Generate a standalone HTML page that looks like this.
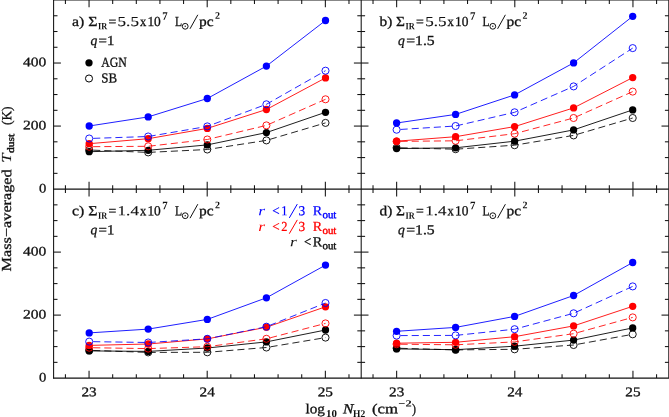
<!DOCTYPE html>
<html><head><meta charset="utf-8"><title>Mass-averaged dust temperature</title>
<style>
html,body{margin:0;padding:0;background:#fff;}
body{width:669px;height:417px;overflow:hidden;font-family:"Liberation Serif",serif;}
svg text{font-family:"Liberation Serif",serif;}
svg{will-change:transform;transform:translateZ(0);}
</style></head><body>
<svg width="669" height="417" viewBox="0 0 669 417" style="display:block">
<rect x="0" y="0" width="669" height="417" fill="#fff"/>
<g stroke="#111" stroke-width="1.05" fill="none" stroke-linecap="butt">
<line x1="53.6" y1="0.0" x2="53.6" y2="378.6"/>
<line x1="361.2" y1="0.0" x2="361.2" y2="378.6"/>
<line x1="668.8" y1="0.0" x2="668.8" y2="378.6"/>
<line x1="53.1" y1="0.0" x2="668.8" y2="0.0"/>
<line x1="53.1" y1="189.1" x2="668.8" y2="189.1"/>
<line x1="53.1" y1="378.1" x2="668.8" y2="378.1"/>
<line x1="65.42" y1="0.0" x2="65.42" y2="3.90"/>
<line x1="65.42" y1="185.20" x2="65.42" y2="193.00"/>
<line x1="65.42" y1="374.20" x2="65.42" y2="378.1"/>
<line x1="89.05" y1="0.0" x2="89.05" y2="7.30"/>
<line x1="89.05" y1="181.80" x2="89.05" y2="196.40"/>
<line x1="89.05" y1="370.80" x2="89.05" y2="378.1"/>
<line x1="112.68" y1="0.0" x2="112.68" y2="3.90"/>
<line x1="112.68" y1="185.20" x2="112.68" y2="193.00"/>
<line x1="112.68" y1="374.20" x2="112.68" y2="378.1"/>
<line x1="136.31" y1="0.0" x2="136.31" y2="3.90"/>
<line x1="136.31" y1="185.20" x2="136.31" y2="193.00"/>
<line x1="136.31" y1="374.20" x2="136.31" y2="378.1"/>
<line x1="159.94" y1="0.0" x2="159.94" y2="3.90"/>
<line x1="159.94" y1="185.20" x2="159.94" y2="193.00"/>
<line x1="159.94" y1="374.20" x2="159.94" y2="378.1"/>
<line x1="183.57" y1="0.0" x2="183.57" y2="3.90"/>
<line x1="183.57" y1="185.20" x2="183.57" y2="193.00"/>
<line x1="183.57" y1="374.20" x2="183.57" y2="378.1"/>
<line x1="207.2" y1="0.0" x2="207.2" y2="7.30"/>
<line x1="207.2" y1="181.80" x2="207.2" y2="196.40"/>
<line x1="207.2" y1="370.80" x2="207.2" y2="378.1"/>
<line x1="230.83" y1="0.0" x2="230.83" y2="3.90"/>
<line x1="230.83" y1="185.20" x2="230.83" y2="193.00"/>
<line x1="230.83" y1="374.20" x2="230.83" y2="378.1"/>
<line x1="254.46" y1="0.0" x2="254.46" y2="3.90"/>
<line x1="254.46" y1="185.20" x2="254.46" y2="193.00"/>
<line x1="254.46" y1="374.20" x2="254.46" y2="378.1"/>
<line x1="278.09" y1="0.0" x2="278.09" y2="3.90"/>
<line x1="278.09" y1="185.20" x2="278.09" y2="193.00"/>
<line x1="278.09" y1="374.20" x2="278.09" y2="378.1"/>
<line x1="301.72" y1="0.0" x2="301.72" y2="3.90"/>
<line x1="301.72" y1="185.20" x2="301.72" y2="193.00"/>
<line x1="301.72" y1="374.20" x2="301.72" y2="378.1"/>
<line x1="325.35" y1="0.0" x2="325.35" y2="7.30"/>
<line x1="325.35" y1="181.80" x2="325.35" y2="196.40"/>
<line x1="325.35" y1="370.80" x2="325.35" y2="378.1"/>
<line x1="348.98" y1="0.0" x2="348.98" y2="3.90"/>
<line x1="348.98" y1="185.20" x2="348.98" y2="193.00"/>
<line x1="348.98" y1="374.20" x2="348.98" y2="378.1"/>
<line x1="373.02" y1="0.0" x2="373.02" y2="3.90"/>
<line x1="373.02" y1="185.20" x2="373.02" y2="193.00"/>
<line x1="373.02" y1="374.20" x2="373.02" y2="378.1"/>
<line x1="396.65" y1="0.0" x2="396.65" y2="7.30"/>
<line x1="396.65" y1="181.80" x2="396.65" y2="196.40"/>
<line x1="396.65" y1="370.80" x2="396.65" y2="378.1"/>
<line x1="420.27" y1="0.0" x2="420.27" y2="3.90"/>
<line x1="420.27" y1="185.20" x2="420.27" y2="193.00"/>
<line x1="420.27" y1="374.20" x2="420.27" y2="378.1"/>
<line x1="443.91" y1="0.0" x2="443.91" y2="3.90"/>
<line x1="443.91" y1="185.20" x2="443.91" y2="193.00"/>
<line x1="443.91" y1="374.20" x2="443.91" y2="378.1"/>
<line x1="467.54" y1="0.0" x2="467.54" y2="3.90"/>
<line x1="467.54" y1="185.20" x2="467.54" y2="193.00"/>
<line x1="467.54" y1="374.20" x2="467.54" y2="378.1"/>
<line x1="491.17" y1="0.0" x2="491.17" y2="3.90"/>
<line x1="491.17" y1="185.20" x2="491.17" y2="193.00"/>
<line x1="491.17" y1="374.20" x2="491.17" y2="378.1"/>
<line x1="514.8" y1="0.0" x2="514.8" y2="7.30"/>
<line x1="514.8" y1="181.80" x2="514.8" y2="196.40"/>
<line x1="514.8" y1="370.80" x2="514.8" y2="378.1"/>
<line x1="538.42" y1="0.0" x2="538.42" y2="3.90"/>
<line x1="538.42" y1="185.20" x2="538.42" y2="193.00"/>
<line x1="538.42" y1="374.20" x2="538.42" y2="378.1"/>
<line x1="562.06" y1="0.0" x2="562.06" y2="3.90"/>
<line x1="562.06" y1="185.20" x2="562.06" y2="193.00"/>
<line x1="562.06" y1="374.20" x2="562.06" y2="378.1"/>
<line x1="585.69" y1="0.0" x2="585.69" y2="3.90"/>
<line x1="585.69" y1="185.20" x2="585.69" y2="193.00"/>
<line x1="585.69" y1="374.20" x2="585.69" y2="378.1"/>
<line x1="609.32" y1="0.0" x2="609.32" y2="3.90"/>
<line x1="609.32" y1="185.20" x2="609.32" y2="193.00"/>
<line x1="609.32" y1="374.20" x2="609.32" y2="378.1"/>
<line x1="632.95" y1="0.0" x2="632.95" y2="7.30"/>
<line x1="632.95" y1="181.80" x2="632.95" y2="196.40"/>
<line x1="632.95" y1="370.80" x2="632.95" y2="378.1"/>
<line x1="656.58" y1="0.0" x2="656.58" y2="3.90"/>
<line x1="656.58" y1="185.20" x2="656.58" y2="193.00"/>
<line x1="656.58" y1="374.20" x2="656.58" y2="378.1"/>
<line x1="53.6" y1="173.34" x2="57.50" y2="173.34"/>
<line x1="357.30" y1="173.34" x2="365.10" y2="173.34"/>
<line x1="664.90" y1="173.34" x2="668.8" y2="173.34"/>
<line x1="53.6" y1="157.58" x2="57.50" y2="157.58"/>
<line x1="357.30" y1="157.58" x2="365.10" y2="157.58"/>
<line x1="664.90" y1="157.58" x2="668.8" y2="157.58"/>
<line x1="53.6" y1="141.82" x2="57.50" y2="141.82"/>
<line x1="357.30" y1="141.82" x2="365.10" y2="141.82"/>
<line x1="664.90" y1="141.82" x2="668.8" y2="141.82"/>
<line x1="53.6" y1="126.07" x2="60.90" y2="126.07"/>
<line x1="353.90" y1="126.07" x2="368.50" y2="126.07"/>
<line x1="661.50" y1="126.07" x2="668.8" y2="126.07"/>
<line x1="53.6" y1="110.31" x2="57.50" y2="110.31"/>
<line x1="357.30" y1="110.31" x2="365.10" y2="110.31"/>
<line x1="664.90" y1="110.31" x2="668.8" y2="110.31"/>
<line x1="53.6" y1="94.55" x2="57.50" y2="94.55"/>
<line x1="357.30" y1="94.55" x2="365.10" y2="94.55"/>
<line x1="664.90" y1="94.55" x2="668.8" y2="94.55"/>
<line x1="53.6" y1="78.79" x2="57.50" y2="78.79"/>
<line x1="357.30" y1="78.79" x2="365.10" y2="78.79"/>
<line x1="664.90" y1="78.79" x2="668.8" y2="78.79"/>
<line x1="53.6" y1="63.03" x2="60.90" y2="63.03"/>
<line x1="353.90" y1="63.03" x2="368.50" y2="63.03"/>
<line x1="661.50" y1="63.03" x2="668.8" y2="63.03"/>
<line x1="53.6" y1="47.27" x2="57.50" y2="47.27"/>
<line x1="357.30" y1="47.27" x2="365.10" y2="47.27"/>
<line x1="664.90" y1="47.27" x2="668.8" y2="47.27"/>
<line x1="53.6" y1="31.51" x2="57.50" y2="31.51"/>
<line x1="357.30" y1="31.51" x2="365.10" y2="31.51"/>
<line x1="664.90" y1="31.51" x2="668.8" y2="31.51"/>
<line x1="53.6" y1="15.76" x2="57.50" y2="15.76"/>
<line x1="357.30" y1="15.76" x2="365.10" y2="15.76"/>
<line x1="664.90" y1="15.76" x2="668.8" y2="15.76"/>
<line x1="53.6" y1="362.35" x2="57.50" y2="362.35"/>
<line x1="357.30" y1="362.35" x2="365.10" y2="362.35"/>
<line x1="664.90" y1="362.35" x2="668.8" y2="362.35"/>
<line x1="53.6" y1="346.6" x2="57.50" y2="346.6"/>
<line x1="357.30" y1="346.6" x2="365.10" y2="346.6"/>
<line x1="664.90" y1="346.6" x2="668.8" y2="346.6"/>
<line x1="53.6" y1="330.85" x2="57.50" y2="330.85"/>
<line x1="357.30" y1="330.85" x2="365.10" y2="330.85"/>
<line x1="664.90" y1="330.85" x2="668.8" y2="330.85"/>
<line x1="53.6" y1="315.1" x2="60.90" y2="315.1"/>
<line x1="353.90" y1="315.1" x2="368.50" y2="315.1"/>
<line x1="661.50" y1="315.1" x2="668.8" y2="315.1"/>
<line x1="53.6" y1="299.35" x2="57.50" y2="299.35"/>
<line x1="357.30" y1="299.35" x2="365.10" y2="299.35"/>
<line x1="664.90" y1="299.35" x2="668.8" y2="299.35"/>
<line x1="53.6" y1="283.6" x2="57.50" y2="283.6"/>
<line x1="357.30" y1="283.6" x2="365.10" y2="283.6"/>
<line x1="664.90" y1="283.6" x2="668.8" y2="283.6"/>
<line x1="53.6" y1="267.85" x2="57.50" y2="267.85"/>
<line x1="357.30" y1="267.85" x2="365.10" y2="267.85"/>
<line x1="664.90" y1="267.85" x2="668.8" y2="267.85"/>
<line x1="53.6" y1="252.1" x2="60.90" y2="252.1"/>
<line x1="353.90" y1="252.1" x2="368.50" y2="252.1"/>
<line x1="661.50" y1="252.1" x2="668.8" y2="252.1"/>
<line x1="53.6" y1="236.35" x2="57.50" y2="236.35"/>
<line x1="357.30" y1="236.35" x2="365.10" y2="236.35"/>
<line x1="664.90" y1="236.35" x2="668.8" y2="236.35"/>
<line x1="53.6" y1="220.6" x2="57.50" y2="220.6"/>
<line x1="357.30" y1="220.6" x2="365.10" y2="220.6"/>
<line x1="664.90" y1="220.6" x2="668.8" y2="220.6"/>
<line x1="53.6" y1="204.85" x2="57.50" y2="204.85"/>
<line x1="357.30" y1="204.85" x2="365.10" y2="204.85"/>
<line x1="664.90" y1="204.85" x2="668.8" y2="204.85"/>
</g>
<polyline points="89.2,151.7 148.2,150.3 207.3,144.9 266.4,132.6 325.5,112.3" fill="none" stroke="#000" stroke-width="0.88"/>
<circle cx="89.2" cy="151.7" r="3.65" fill="#000"/>
<circle cx="148.2" cy="150.3" r="3.65" fill="#000"/>
<circle cx="207.3" cy="144.9" r="3.65" fill="#000"/>
<circle cx="266.4" cy="132.6" r="3.65" fill="#000"/>
<circle cx="325.5" cy="112.3" r="3.65" fill="#000"/>
<polyline points="89.2,150.0 148.2,152.4 207.3,149.5 266.4,140.4 325.5,122.9" fill="none" stroke="#000" stroke-width="0.85" stroke-dasharray="7.1 4.0" stroke-dashoffset="7.1"/>
<circle cx="89.2" cy="150.0" r="3.55" fill="none" stroke="#000" stroke-width="0.9"/>
<circle cx="148.2" cy="152.4" r="3.55" fill="none" stroke="#000" stroke-width="0.9"/>
<circle cx="207.3" cy="149.5" r="3.55" fill="none" stroke="#000" stroke-width="0.9"/>
<circle cx="266.4" cy="140.4" r="3.55" fill="none" stroke="#000" stroke-width="0.9"/>
<circle cx="325.5" cy="122.9" r="3.55" fill="none" stroke="#000" stroke-width="0.9"/>
<polyline points="89.2,143.7 148.2,138.7 207.3,128.4 266.4,109.5 325.5,77.9" fill="none" stroke="#f00" stroke-width="0.88"/>
<circle cx="89.2" cy="143.7" r="3.65" fill="#f00"/>
<circle cx="148.2" cy="138.7" r="3.65" fill="#f00"/>
<circle cx="207.3" cy="128.4" r="3.65" fill="#f00"/>
<circle cx="266.4" cy="109.5" r="3.65" fill="#f00"/>
<circle cx="325.5" cy="77.9" r="3.65" fill="#f00"/>
<polyline points="89.2,146.7 148.2,146.3 207.3,139.5 266.4,125.4 325.5,99.3" fill="none" stroke="#f00" stroke-width="0.85" stroke-dasharray="7.1 4.0" stroke-dashoffset="7.1"/>
<circle cx="89.2" cy="146.7" r="3.55" fill="none" stroke="#f00" stroke-width="0.9"/>
<circle cx="148.2" cy="146.3" r="3.55" fill="none" stroke="#f00" stroke-width="0.9"/>
<circle cx="207.3" cy="139.5" r="3.55" fill="none" stroke="#f00" stroke-width="0.9"/>
<circle cx="266.4" cy="125.4" r="3.55" fill="none" stroke="#f00" stroke-width="0.9"/>
<circle cx="325.5" cy="99.3" r="3.55" fill="none" stroke="#f00" stroke-width="0.9"/>
<polyline points="89.2,126.0 148.2,116.9 207.3,98.5 266.4,66.1 325.5,20.5" fill="none" stroke="#00f" stroke-width="0.88"/>
<circle cx="89.2" cy="126.0" r="3.65" fill="#00f"/>
<circle cx="148.2" cy="116.9" r="3.65" fill="#00f"/>
<circle cx="207.3" cy="98.5" r="3.65" fill="#00f"/>
<circle cx="266.4" cy="66.1" r="3.65" fill="#00f"/>
<circle cx="325.5" cy="20.5" r="3.65" fill="#00f"/>
<polyline points="89.2,138.5 148.2,136.5 207.3,126.4 266.4,104.3 325.5,70.7" fill="none" stroke="#00f" stroke-width="0.85" stroke-dasharray="7.1 4.0" stroke-dashoffset="7.1"/>
<circle cx="89.2" cy="138.5" r="3.55" fill="none" stroke="#00f" stroke-width="0.9"/>
<circle cx="148.2" cy="136.5" r="3.55" fill="none" stroke="#00f" stroke-width="0.9"/>
<circle cx="207.3" cy="126.4" r="3.55" fill="none" stroke="#00f" stroke-width="0.9"/>
<circle cx="266.4" cy="104.3" r="3.55" fill="none" stroke="#00f" stroke-width="0.9"/>
<circle cx="325.5" cy="70.7" r="3.55" fill="none" stroke="#00f" stroke-width="0.9"/>
<polyline points="396.6,148.6 455.6,147.8 514.6,141.2 573.6,129.9 632.7,109.9" fill="none" stroke="#000" stroke-width="0.88"/>
<circle cx="396.6" cy="148.6" r="3.65" fill="#000"/>
<circle cx="455.6" cy="147.8" r="3.65" fill="#000"/>
<circle cx="514.6" cy="141.2" r="3.65" fill="#000"/>
<circle cx="573.6" cy="129.9" r="3.65" fill="#000"/>
<circle cx="632.7" cy="109.9" r="3.65" fill="#000"/>
<polyline points="396.6,147.7 455.6,149.2 514.6,145.2 573.6,135.4 632.7,118.0" fill="none" stroke="#000" stroke-width="0.85" stroke-dasharray="7.1 4.0" stroke-dashoffset="7.1"/>
<circle cx="396.6" cy="147.7" r="3.55" fill="none" stroke="#000" stroke-width="0.9"/>
<circle cx="455.6" cy="149.2" r="3.55" fill="none" stroke="#000" stroke-width="0.9"/>
<circle cx="514.6" cy="145.2" r="3.55" fill="none" stroke="#000" stroke-width="0.9"/>
<circle cx="573.6" cy="135.4" r="3.55" fill="none" stroke="#000" stroke-width="0.9"/>
<circle cx="632.7" cy="118.0" r="3.55" fill="none" stroke="#000" stroke-width="0.9"/>
<polyline points="396.6,141.2 455.6,136.7 514.6,126.6 573.6,107.9 632.7,77.6" fill="none" stroke="#f00" stroke-width="0.88"/>
<circle cx="396.6" cy="141.2" r="3.65" fill="#f00"/>
<circle cx="455.6" cy="136.7" r="3.65" fill="#f00"/>
<circle cx="514.6" cy="126.6" r="3.65" fill="#f00"/>
<circle cx="573.6" cy="107.9" r="3.65" fill="#f00"/>
<circle cx="632.7" cy="77.6" r="3.65" fill="#f00"/>
<polyline points="396.6,141.4 455.6,140.8 514.6,133.7 573.6,118.0 632.7,91.6" fill="none" stroke="#f00" stroke-width="0.85" stroke-dasharray="7.1 4.0" stroke-dashoffset="7.1"/>
<circle cx="396.6" cy="141.4" r="3.55" fill="none" stroke="#f00" stroke-width="0.9"/>
<circle cx="455.6" cy="140.8" r="3.55" fill="none" stroke="#f00" stroke-width="0.9"/>
<circle cx="514.6" cy="133.7" r="3.55" fill="none" stroke="#f00" stroke-width="0.9"/>
<circle cx="573.6" cy="118.0" r="3.55" fill="none" stroke="#f00" stroke-width="0.9"/>
<circle cx="632.7" cy="91.6" r="3.55" fill="none" stroke="#f00" stroke-width="0.9"/>
<polyline points="396.6,123.0 455.6,114.4 514.6,94.9 573.6,62.9 632.7,16.3" fill="none" stroke="#00f" stroke-width="0.88"/>
<circle cx="396.6" cy="123.0" r="3.65" fill="#00f"/>
<circle cx="455.6" cy="114.4" r="3.65" fill="#00f"/>
<circle cx="514.6" cy="94.9" r="3.65" fill="#00f"/>
<circle cx="573.6" cy="62.9" r="3.65" fill="#00f"/>
<circle cx="632.7" cy="16.3" r="3.65" fill="#00f"/>
<polyline points="396.6,129.7 455.6,126.0 514.6,112.3 573.6,86.4 632.7,48.1" fill="none" stroke="#00f" stroke-width="0.85" stroke-dasharray="7.1 4.0" stroke-dashoffset="7.1"/>
<circle cx="396.6" cy="129.7" r="3.55" fill="none" stroke="#00f" stroke-width="0.9"/>
<circle cx="455.6" cy="126.0" r="3.55" fill="none" stroke="#00f" stroke-width="0.9"/>
<circle cx="514.6" cy="112.3" r="3.55" fill="none" stroke="#00f" stroke-width="0.9"/>
<circle cx="573.6" cy="86.4" r="3.55" fill="none" stroke="#00f" stroke-width="0.9"/>
<circle cx="632.7" cy="48.1" r="3.55" fill="none" stroke="#00f" stroke-width="0.9"/>
<polyline points="89.2,350.9 148.2,351.4 207.3,348.0 266.4,341.9 325.5,330.0" fill="none" stroke="#000" stroke-width="0.88"/>
<circle cx="89.2" cy="350.9" r="3.65" fill="#000"/>
<circle cx="148.2" cy="351.4" r="3.65" fill="#000"/>
<circle cx="207.3" cy="348.0" r="3.65" fill="#000"/>
<circle cx="266.4" cy="341.9" r="3.65" fill="#000"/>
<circle cx="325.5" cy="330.0" r="3.65" fill="#000"/>
<polyline points="89.2,350.3 148.2,352.4 207.3,352.3 266.4,347.5 325.5,337.6" fill="none" stroke="#000" stroke-width="0.85" stroke-dasharray="7.1 4.0" stroke-dashoffset="7.1"/>
<circle cx="89.2" cy="350.3" r="3.55" fill="none" stroke="#000" stroke-width="0.9"/>
<circle cx="148.2" cy="352.4" r="3.55" fill="none" stroke="#000" stroke-width="0.9"/>
<circle cx="207.3" cy="352.3" r="3.55" fill="none" stroke="#000" stroke-width="0.9"/>
<circle cx="266.4" cy="347.5" r="3.55" fill="none" stroke="#000" stroke-width="0.9"/>
<circle cx="325.5" cy="337.6" r="3.55" fill="none" stroke="#000" stroke-width="0.9"/>
<polyline points="89.2,345.4 148.2,344.0 207.3,338.9 266.4,327.2 325.5,306.8" fill="none" stroke="#f00" stroke-width="0.88"/>
<circle cx="89.2" cy="345.4" r="3.65" fill="#f00"/>
<circle cx="148.2" cy="344.0" r="3.65" fill="#f00"/>
<circle cx="207.3" cy="338.9" r="3.65" fill="#f00"/>
<circle cx="266.4" cy="327.2" r="3.65" fill="#f00"/>
<circle cx="325.5" cy="306.8" r="3.65" fill="#f00"/>
<polyline points="89.2,347.7 148.2,348.6 207.3,346.7 266.4,338.8 325.5,323.4" fill="none" stroke="#f00" stroke-width="0.85" stroke-dasharray="7.1 4.0" stroke-dashoffset="7.1"/>
<circle cx="89.2" cy="347.7" r="3.55" fill="none" stroke="#f00" stroke-width="0.9"/>
<circle cx="148.2" cy="348.6" r="3.55" fill="none" stroke="#f00" stroke-width="0.9"/>
<circle cx="207.3" cy="346.7" r="3.55" fill="none" stroke="#f00" stroke-width="0.9"/>
<circle cx="266.4" cy="338.8" r="3.55" fill="none" stroke="#f00" stroke-width="0.9"/>
<circle cx="325.5" cy="323.4" r="3.55" fill="none" stroke="#f00" stroke-width="0.9"/>
<polyline points="89.2,332.9 148.2,329.1 207.3,319.4 266.4,297.8 325.5,265.1" fill="none" stroke="#00f" stroke-width="0.88"/>
<circle cx="89.2" cy="332.9" r="3.65" fill="#00f"/>
<circle cx="148.2" cy="329.1" r="3.65" fill="#00f"/>
<circle cx="207.3" cy="319.4" r="3.65" fill="#00f"/>
<circle cx="266.4" cy="297.8" r="3.65" fill="#00f"/>
<circle cx="325.5" cy="265.1" r="3.65" fill="#00f"/>
<polyline points="89.2,341.6 148.2,342.5 207.3,338.8 266.4,326.7 325.5,303.0" fill="none" stroke="#00f" stroke-width="0.85" stroke-dasharray="7.1 4.0" stroke-dashoffset="7.1"/>
<circle cx="89.2" cy="341.6" r="3.55" fill="none" stroke="#00f" stroke-width="0.9"/>
<circle cx="148.2" cy="342.5" r="3.55" fill="none" stroke="#00f" stroke-width="0.9"/>
<circle cx="207.3" cy="338.8" r="3.55" fill="none" stroke="#00f" stroke-width="0.9"/>
<circle cx="266.4" cy="326.7" r="3.55" fill="none" stroke="#00f" stroke-width="0.9"/>
<circle cx="325.5" cy="303.0" r="3.55" fill="none" stroke="#00f" stroke-width="0.9"/>
<polyline points="396.6,348.9 455.6,349.7 514.6,346.2 573.6,340.1 632.7,327.9" fill="none" stroke="#000" stroke-width="0.88"/>
<circle cx="396.6" cy="348.9" r="3.65" fill="#000"/>
<circle cx="455.6" cy="349.7" r="3.65" fill="#000"/>
<circle cx="514.6" cy="346.2" r="3.65" fill="#000"/>
<circle cx="573.6" cy="340.1" r="3.65" fill="#000"/>
<circle cx="632.7" cy="327.9" r="3.65" fill="#000"/>
<polyline points="396.6,348.2 455.6,349.9 514.6,349.3 573.6,345.0 632.7,334.3" fill="none" stroke="#000" stroke-width="0.85" stroke-dasharray="7.1 4.0" stroke-dashoffset="7.1"/>
<circle cx="396.6" cy="348.2" r="3.55" fill="none" stroke="#000" stroke-width="0.9"/>
<circle cx="455.6" cy="349.9" r="3.55" fill="none" stroke="#000" stroke-width="0.9"/>
<circle cx="514.6" cy="349.3" r="3.55" fill="none" stroke="#000" stroke-width="0.9"/>
<circle cx="573.6" cy="345.0" r="3.55" fill="none" stroke="#000" stroke-width="0.9"/>
<circle cx="632.7" cy="334.3" r="3.55" fill="none" stroke="#000" stroke-width="0.9"/>
<polyline points="396.6,343.2 455.6,342.3 514.6,336.7 573.6,325.9 632.7,306.3" fill="none" stroke="#f00" stroke-width="0.88"/>
<circle cx="396.6" cy="343.2" r="3.65" fill="#f00"/>
<circle cx="455.6" cy="342.3" r="3.65" fill="#f00"/>
<circle cx="514.6" cy="336.7" r="3.65" fill="#f00"/>
<circle cx="573.6" cy="325.9" r="3.65" fill="#f00"/>
<circle cx="632.7" cy="306.3" r="3.65" fill="#f00"/>
<polyline points="396.6,344.2 455.6,344.8 514.6,341.9 573.6,333.7 632.7,317.4" fill="none" stroke="#f00" stroke-width="0.85" stroke-dasharray="7.1 4.0" stroke-dashoffset="7.1"/>
<circle cx="396.6" cy="344.2" r="3.55" fill="none" stroke="#f00" stroke-width="0.9"/>
<circle cx="455.6" cy="344.8" r="3.55" fill="none" stroke="#f00" stroke-width="0.9"/>
<circle cx="514.6" cy="341.9" r="3.55" fill="none" stroke="#f00" stroke-width="0.9"/>
<circle cx="573.6" cy="333.7" r="3.55" fill="none" stroke="#f00" stroke-width="0.9"/>
<circle cx="632.7" cy="317.4" r="3.55" fill="none" stroke="#f00" stroke-width="0.9"/>
<polyline points="396.6,331.3 455.6,327.4 514.6,316.4 573.6,295.5 632.7,262.5" fill="none" stroke="#00f" stroke-width="0.88"/>
<circle cx="396.6" cy="331.3" r="3.65" fill="#00f"/>
<circle cx="455.6" cy="327.4" r="3.65" fill="#00f"/>
<circle cx="514.6" cy="316.4" r="3.65" fill="#00f"/>
<circle cx="573.6" cy="295.5" r="3.65" fill="#00f"/>
<circle cx="632.7" cy="262.5" r="3.65" fill="#00f"/>
<polyline points="396.6,335.6 455.6,335.4 514.6,329.2 573.6,313.3 632.7,286.4" fill="none" stroke="#00f" stroke-width="0.85" stroke-dasharray="7.1 4.0" stroke-dashoffset="7.1"/>
<circle cx="396.6" cy="335.6" r="3.55" fill="none" stroke="#00f" stroke-width="0.9"/>
<circle cx="455.6" cy="335.4" r="3.55" fill="none" stroke="#00f" stroke-width="0.9"/>
<circle cx="514.6" cy="329.2" r="3.55" fill="none" stroke="#00f" stroke-width="0.9"/>
<circle cx="573.6" cy="313.3" r="3.55" fill="none" stroke="#00f" stroke-width="0.9"/>
<circle cx="632.7" cy="286.4" r="3.55" fill="none" stroke="#00f" stroke-width="0.9"/>
<text transform="translate(38.9,192.4) rotate(0.05)" font-family="Liberation Serif, serif" font-size="13.0" fill="#111" stroke="#111" stroke-width="0.3" text-anchor="start" textLength="7.3" lengthAdjust="spacingAndGlyphs"  >0</text>
<text transform="translate(22.9,129.37) rotate(0.05)" font-family="Liberation Serif, serif" font-size="13.0" fill="#111" stroke="#111" stroke-width="0.3" text-anchor="start" textLength="23.3" lengthAdjust="spacingAndGlyphs"  >200</text>
<text transform="translate(22.9,66.33) rotate(0.05)" font-family="Liberation Serif, serif" font-size="13.0" fill="#111" stroke="#111" stroke-width="0.3" text-anchor="start" textLength="23.3" lengthAdjust="spacingAndGlyphs"  >400</text>
<text transform="translate(38.9,381.4) rotate(0.05)" font-family="Liberation Serif, serif" font-size="13.0" fill="#111" stroke="#111" stroke-width="0.3" text-anchor="start" textLength="7.3" lengthAdjust="spacingAndGlyphs"  >0</text>
<text transform="translate(22.9,318.4) rotate(0.05)" font-family="Liberation Serif, serif" font-size="13.0" fill="#111" stroke="#111" stroke-width="0.3" text-anchor="start" textLength="23.3" lengthAdjust="spacingAndGlyphs"  >200</text>
<text transform="translate(22.9,255.4) rotate(0.05)" font-family="Liberation Serif, serif" font-size="13.0" fill="#111" stroke="#111" stroke-width="0.3" text-anchor="start" textLength="23.3" lengthAdjust="spacingAndGlyphs"  >400</text>
<text transform="translate(81.45,396.3) rotate(0.05)" font-family="Liberation Serif, serif" font-size="13.3" fill="#111" stroke="#111" stroke-width="0.3" text-anchor="start" textLength="15.2" lengthAdjust="spacingAndGlyphs"  >23</text>
<text transform="translate(199.6,396.3) rotate(0.05)" font-family="Liberation Serif, serif" font-size="13.3" fill="#111" stroke="#111" stroke-width="0.3" text-anchor="start" textLength="15.2" lengthAdjust="spacingAndGlyphs"  >24</text>
<text transform="translate(317.75,396.3) rotate(0.05)" font-family="Liberation Serif, serif" font-size="13.3" fill="#111" stroke="#111" stroke-width="0.3" text-anchor="start" textLength="15.2" lengthAdjust="spacingAndGlyphs"  >25</text>
<text transform="translate(389.05,396.3) rotate(0.05)" font-family="Liberation Serif, serif" font-size="13.3" fill="#111" stroke="#111" stroke-width="0.3" text-anchor="start" textLength="15.2" lengthAdjust="spacingAndGlyphs"  >23</text>
<text transform="translate(507.2,396.3) rotate(0.05)" font-family="Liberation Serif, serif" font-size="13.3" fill="#111" stroke="#111" stroke-width="0.3" text-anchor="start" textLength="15.2" lengthAdjust="spacingAndGlyphs"  >24</text>
<text transform="translate(625.35,396.3) rotate(0.05)" font-family="Liberation Serif, serif" font-size="13.3" fill="#111" stroke="#111" stroke-width="0.3" text-anchor="start" textLength="15.2" lengthAdjust="spacingAndGlyphs"  >25</text>
<text transform="translate(71.9,25.9) rotate(0.05)" font-family="Liberation Serif, serif" font-size="13.8" fill="#111" stroke="#111" stroke-width="0.3" text-anchor="start" textLength="25.5" lengthAdjust="spacingAndGlyphs"  >a) Σ</text>
<text transform="translate(98.0,29.3) rotate(0.05)" font-family="Liberation Serif, serif" font-size="9.5" fill="#111" text-anchor="start" textLength="9.2" lengthAdjust="spacingAndGlyphs"  font-weight="bold">IR</text>
<text transform="translate(108.5,25.9) rotate(0.05)" font-family="Liberation Serif, serif" font-size="13.8" fill="#111" stroke="#111" stroke-width="0.3" text-anchor="start" textLength="7.8" lengthAdjust="spacingAndGlyphs"  >=</text>
<text transform="translate(117.6,25.9) rotate(0.05)" font-family="Liberation Serif, serif" font-size="13.8" fill="#111" stroke="#111" stroke-width="0.12" text-anchor="start" textLength="21.3" lengthAdjust="spacingAndGlyphs"  >5.5</text>
<text transform="translate(140.0,25.9) rotate(0.05)" font-family="Liberation Serif, serif" font-size="13.8" fill="#111" stroke="#111" stroke-width="0.3" text-anchor="start" textLength="6.3" lengthAdjust="spacingAndGlyphs"  >x</text>
<text transform="translate(147.4,25.9) rotate(0.05)" font-family="Liberation Serif, serif" font-size="13.8" fill="#111" stroke="#111" stroke-width="0.3" text-anchor="start" textLength="13.4" lengthAdjust="spacingAndGlyphs"  >10</text>
<text transform="translate(162.3,19.8) rotate(0.05)" font-family="Liberation Serif, serif" font-size="11.5" fill="#111" text-anchor="start" textLength="5.4" lengthAdjust="spacingAndGlyphs"  font-weight="bold">7</text>
<text transform="translate(174.9,25.9) rotate(0.05)" font-family="Liberation Serif, serif" font-size="13.8" fill="#111" stroke="#111" stroke-width="0.3" text-anchor="start" textLength="7.1" lengthAdjust="spacingAndGlyphs"  >L</text>
<circle cx="185.2" cy="26.3" r="2.9" fill="none" stroke="#111" stroke-width="1"/>
<circle cx="185.2" cy="26.3" r="0.7" fill="#111"/>
<line x1="190.0" y1="28.8" x2="197.8" y2="14.8" stroke="#111" stroke-width="1"/>
<text transform="translate(199.0,25.9) rotate(0.05)" font-family="Liberation Serif, serif" font-size="13.8" fill="#111" stroke="#111" stroke-width="0.3" text-anchor="start" textLength="14.6" lengthAdjust="spacingAndGlyphs"  >pc</text>
<text transform="translate(215.0,18.8) rotate(0.05)" font-family="Liberation Serif, serif" font-size="10" fill="#111" text-anchor="start" textLength="5.0" lengthAdjust="spacingAndGlyphs"  font-weight="bold">2</text>
<text transform="translate(90.5,44.9) rotate(0.05)" font-family="Liberation Serif, serif" font-size="13.8" fill="#111" stroke="#111" stroke-width="0.3" text-anchor="start" textLength="6.8" lengthAdjust="spacingAndGlyphs" font-style="italic" >q</text>
<text transform="translate(98.6,44.9) rotate(0.05)" font-family="Liberation Serif, serif" font-size="13.8" fill="#111" stroke="#111" stroke-width="0.3" text-anchor="start" textLength="15.8" lengthAdjust="spacingAndGlyphs"  >=1</text>
<text transform="translate(379.5,25.9) rotate(0.05)" font-family="Liberation Serif, serif" font-size="13.8" fill="#111" stroke="#111" stroke-width="0.3" text-anchor="start" textLength="25.5" lengthAdjust="spacingAndGlyphs"  >b) Σ</text>
<text transform="translate(405.59999999999997,29.3) rotate(0.05)" font-family="Liberation Serif, serif" font-size="9.5" fill="#111" text-anchor="start" textLength="9.2" lengthAdjust="spacingAndGlyphs"  font-weight="bold">IR</text>
<text transform="translate(416.09999999999997,25.9) rotate(0.05)" font-family="Liberation Serif, serif" font-size="13.8" fill="#111" stroke="#111" stroke-width="0.3" text-anchor="start" textLength="7.8" lengthAdjust="spacingAndGlyphs"  >=</text>
<text transform="translate(425.19999999999993,25.9) rotate(0.05)" font-family="Liberation Serif, serif" font-size="13.8" fill="#111" stroke="#111" stroke-width="0.12" text-anchor="start" textLength="21.3" lengthAdjust="spacingAndGlyphs"  >5.5</text>
<text transform="translate(447.59999999999997,25.9) rotate(0.05)" font-family="Liberation Serif, serif" font-size="13.8" fill="#111" stroke="#111" stroke-width="0.3" text-anchor="start" textLength="6.3" lengthAdjust="spacingAndGlyphs"  >x</text>
<text transform="translate(455.0,25.9) rotate(0.05)" font-family="Liberation Serif, serif" font-size="13.8" fill="#111" stroke="#111" stroke-width="0.3" text-anchor="start" textLength="13.4" lengthAdjust="spacingAndGlyphs"  >10</text>
<text transform="translate(469.9,19.8) rotate(0.05)" font-family="Liberation Serif, serif" font-size="11.5" fill="#111" text-anchor="start" textLength="5.4" lengthAdjust="spacingAndGlyphs"  font-weight="bold">7</text>
<text transform="translate(482.5,25.9) rotate(0.05)" font-family="Liberation Serif, serif" font-size="13.8" fill="#111" stroke="#111" stroke-width="0.3" text-anchor="start" textLength="7.1" lengthAdjust="spacingAndGlyphs"  >L</text>
<circle cx="492.79999999999995" cy="26.3" r="2.9" fill="none" stroke="#111" stroke-width="1"/>
<circle cx="492.79999999999995" cy="26.3" r="0.7" fill="#111"/>
<line x1="497.59999999999997" y1="28.8" x2="505.4" y2="14.8" stroke="#111" stroke-width="1"/>
<text transform="translate(506.59999999999997,25.9) rotate(0.05)" font-family="Liberation Serif, serif" font-size="13.8" fill="#111" stroke="#111" stroke-width="0.3" text-anchor="start" textLength="14.6" lengthAdjust="spacingAndGlyphs"  >pc</text>
<text transform="translate(522.5999999999999,18.8) rotate(0.05)" font-family="Liberation Serif, serif" font-size="10" fill="#111" text-anchor="start" textLength="5.0" lengthAdjust="spacingAndGlyphs"  font-weight="bold">2</text>
<text transform="translate(398.09999999999997,44.9) rotate(0.05)" font-family="Liberation Serif, serif" font-size="13.8" fill="#111" stroke="#111" stroke-width="0.3" text-anchor="start" textLength="6.8" lengthAdjust="spacingAndGlyphs" font-style="italic" >q</text>
<text transform="translate(406.19999999999993,44.9) rotate(0.05)" font-family="Liberation Serif, serif" font-size="13.8" fill="#111" stroke="#111" stroke-width="0.3" text-anchor="start" textLength="28.5" lengthAdjust="spacingAndGlyphs"  >=1.5</text>
<text transform="translate(71.9,215.3) rotate(0.05)" font-family="Liberation Serif, serif" font-size="13.8" fill="#111" stroke="#111" stroke-width="0.3" text-anchor="start" textLength="25.5" lengthAdjust="spacingAndGlyphs"  >c) Σ</text>
<text transform="translate(98.0,218.70000000000002) rotate(0.05)" font-family="Liberation Serif, serif" font-size="9.5" fill="#111" text-anchor="start" textLength="9.2" lengthAdjust="spacingAndGlyphs"  font-weight="bold">IR</text>
<text transform="translate(108.5,215.3) rotate(0.05)" font-family="Liberation Serif, serif" font-size="13.8" fill="#111" stroke="#111" stroke-width="0.3" text-anchor="start" textLength="7.8" lengthAdjust="spacingAndGlyphs"  >=</text>
<text transform="translate(117.6,215.3) rotate(0.05)" font-family="Liberation Serif, serif" font-size="13.8" fill="#111" stroke="#111" stroke-width="0.12" text-anchor="start" textLength="21.3" lengthAdjust="spacingAndGlyphs"  >1.4</text>
<text transform="translate(140.0,215.3) rotate(0.05)" font-family="Liberation Serif, serif" font-size="13.8" fill="#111" stroke="#111" stroke-width="0.3" text-anchor="start" textLength="6.3" lengthAdjust="spacingAndGlyphs"  >x</text>
<text transform="translate(147.4,215.3) rotate(0.05)" font-family="Liberation Serif, serif" font-size="13.8" fill="#111" stroke="#111" stroke-width="0.3" text-anchor="start" textLength="13.4" lengthAdjust="spacingAndGlyphs"  >10</text>
<text transform="translate(162.3,209.20000000000002) rotate(0.05)" font-family="Liberation Serif, serif" font-size="11.5" fill="#111" text-anchor="start" textLength="5.4" lengthAdjust="spacingAndGlyphs"  font-weight="bold">7</text>
<text transform="translate(174.9,215.3) rotate(0.05)" font-family="Liberation Serif, serif" font-size="13.8" fill="#111" stroke="#111" stroke-width="0.3" text-anchor="start" textLength="7.1" lengthAdjust="spacingAndGlyphs"  >L</text>
<circle cx="185.2" cy="215.70000000000002" r="2.9" fill="none" stroke="#111" stroke-width="1"/>
<circle cx="185.2" cy="215.70000000000002" r="0.7" fill="#111"/>
<line x1="190.0" y1="218.20000000000002" x2="197.8" y2="204.20000000000002" stroke="#111" stroke-width="1"/>
<text transform="translate(199.0,215.3) rotate(0.05)" font-family="Liberation Serif, serif" font-size="13.8" fill="#111" stroke="#111" stroke-width="0.3" text-anchor="start" textLength="14.6" lengthAdjust="spacingAndGlyphs"  >pc</text>
<text transform="translate(215.0,208.20000000000002) rotate(0.05)" font-family="Liberation Serif, serif" font-size="10" fill="#111" text-anchor="start" textLength="5.0" lengthAdjust="spacingAndGlyphs"  font-weight="bold">2</text>
<text transform="translate(90.5,234.3) rotate(0.05)" font-family="Liberation Serif, serif" font-size="13.8" fill="#111" stroke="#111" stroke-width="0.3" text-anchor="start" textLength="6.8" lengthAdjust="spacingAndGlyphs" font-style="italic" >q</text>
<text transform="translate(98.6,234.3) rotate(0.05)" font-family="Liberation Serif, serif" font-size="13.8" fill="#111" stroke="#111" stroke-width="0.3" text-anchor="start" textLength="15.8" lengthAdjust="spacingAndGlyphs"  >=1</text>
<text transform="translate(379.5,215.3) rotate(0.05)" font-family="Liberation Serif, serif" font-size="13.8" fill="#111" stroke="#111" stroke-width="0.3" text-anchor="start" textLength="25.5" lengthAdjust="spacingAndGlyphs"  >d) Σ</text>
<text transform="translate(405.59999999999997,218.70000000000002) rotate(0.05)" font-family="Liberation Serif, serif" font-size="9.5" fill="#111" text-anchor="start" textLength="9.2" lengthAdjust="spacingAndGlyphs"  font-weight="bold">IR</text>
<text transform="translate(416.09999999999997,215.3) rotate(0.05)" font-family="Liberation Serif, serif" font-size="13.8" fill="#111" stroke="#111" stroke-width="0.3" text-anchor="start" textLength="7.8" lengthAdjust="spacingAndGlyphs"  >=</text>
<text transform="translate(425.19999999999993,215.3) rotate(0.05)" font-family="Liberation Serif, serif" font-size="13.8" fill="#111" stroke="#111" stroke-width="0.12" text-anchor="start" textLength="21.3" lengthAdjust="spacingAndGlyphs"  >1.4</text>
<text transform="translate(447.59999999999997,215.3) rotate(0.05)" font-family="Liberation Serif, serif" font-size="13.8" fill="#111" stroke="#111" stroke-width="0.3" text-anchor="start" textLength="6.3" lengthAdjust="spacingAndGlyphs"  >x</text>
<text transform="translate(455.0,215.3) rotate(0.05)" font-family="Liberation Serif, serif" font-size="13.8" fill="#111" stroke="#111" stroke-width="0.3" text-anchor="start" textLength="13.4" lengthAdjust="spacingAndGlyphs"  >10</text>
<text transform="translate(469.9,209.20000000000002) rotate(0.05)" font-family="Liberation Serif, serif" font-size="11.5" fill="#111" text-anchor="start" textLength="5.4" lengthAdjust="spacingAndGlyphs"  font-weight="bold">7</text>
<text transform="translate(482.5,215.3) rotate(0.05)" font-family="Liberation Serif, serif" font-size="13.8" fill="#111" stroke="#111" stroke-width="0.3" text-anchor="start" textLength="7.1" lengthAdjust="spacingAndGlyphs"  >L</text>
<circle cx="492.79999999999995" cy="215.70000000000002" r="2.9" fill="none" stroke="#111" stroke-width="1"/>
<circle cx="492.79999999999995" cy="215.70000000000002" r="0.7" fill="#111"/>
<line x1="497.59999999999997" y1="218.20000000000002" x2="505.4" y2="204.20000000000002" stroke="#111" stroke-width="1"/>
<text transform="translate(506.59999999999997,215.3) rotate(0.05)" font-family="Liberation Serif, serif" font-size="13.8" fill="#111" stroke="#111" stroke-width="0.3" text-anchor="start" textLength="14.6" lengthAdjust="spacingAndGlyphs"  >pc</text>
<text transform="translate(522.5999999999999,208.20000000000002) rotate(0.05)" font-family="Liberation Serif, serif" font-size="10" fill="#111" text-anchor="start" textLength="5.0" lengthAdjust="spacingAndGlyphs"  font-weight="bold">2</text>
<text transform="translate(398.09999999999997,234.3) rotate(0.05)" font-family="Liberation Serif, serif" font-size="13.8" fill="#111" stroke="#111" stroke-width="0.3" text-anchor="start" textLength="6.8" lengthAdjust="spacingAndGlyphs" font-style="italic" >q</text>
<text transform="translate(406.19999999999993,234.3) rotate(0.05)" font-family="Liberation Serif, serif" font-size="13.8" fill="#111" stroke="#111" stroke-width="0.3" text-anchor="start" textLength="28.5" lengthAdjust="spacingAndGlyphs"  >=1.5</text>
<circle cx="89.0" cy="62.8" r="3.65" fill="#000"/>
<circle cx="89.0" cy="78.5" r="3.55" fill="none" stroke="#000" stroke-width="1"/>
<text transform="translate(101.3,66.7) rotate(0.05)" font-family="Liberation Serif, serif" font-size="13.8" fill="#111" stroke="#111" stroke-width="0.3" text-anchor="start" textLength="25.6" lengthAdjust="spacingAndGlyphs"  >AGN</text>
<text transform="translate(101.3,82.5) rotate(0.05)" font-family="Liberation Serif, serif" font-size="13.8" fill="#111" stroke="#111" stroke-width="0.3" text-anchor="start" textLength="15.8" lengthAdjust="spacingAndGlyphs"  >SB</text>
<text transform="translate(258.2,215.2) rotate(0.05)" font-family="Liberation Serif, serif" font-size="13.8" fill="#00f" stroke="#00f" stroke-width="0.0" text-anchor="start" textLength="6.8" lengthAdjust="spacingAndGlyphs" font-style="italic" >r</text>
<text transform="translate(272.2,215.2) rotate(0.05)" font-family="Liberation Serif, serif" font-size="13.8" fill="#00f" stroke="#00f" stroke-width="0.22" text-anchor="start" textLength="7.4" lengthAdjust="spacingAndGlyphs"  >&lt;</text>
<text transform="translate(281.2,215.2) rotate(0.05)" font-family="Liberation Serif, serif" font-size="13.8" fill="#00f" stroke="#00f" stroke-width="0.22" text-anchor="start" textLength="6.2" lengthAdjust="spacingAndGlyphs"  >1</text>
<line x1="289.3" y1="217.89999999999998" x2="297.3" y2="204.1" stroke="#00f" stroke-width="1"/>
<text transform="translate(298.4,215.2) rotate(0.05)" font-family="Liberation Serif, serif" font-size="13.8" fill="#00f" stroke="#00f" stroke-width="0.22" text-anchor="start" textLength="6.7" lengthAdjust="spacingAndGlyphs"  >3</text>
<text transform="translate(312.8,215.2) rotate(0.05)" font-family="Liberation Serif, serif" font-size="13.8" fill="#00f" stroke="#00f" stroke-width="0.22" text-anchor="start" textLength="9.4" lengthAdjust="spacingAndGlyphs"  >R</text>
<text transform="translate(322.4,218.29999999999998) rotate(0.05)" font-family="Liberation Serif, serif" font-size="11" fill="#00f" stroke="#00f" stroke-width="0.4" text-anchor="start" textLength="14.0" lengthAdjust="spacingAndGlyphs"  >out</text>
<text transform="translate(258.2,231.0) rotate(0.05)" font-family="Liberation Serif, serif" font-size="13.8" fill="#f00" stroke="#f00" stroke-width="0.0" text-anchor="start" textLength="6.8" lengthAdjust="spacingAndGlyphs" font-style="italic" >r</text>
<text transform="translate(272.2,231.0) rotate(0.05)" font-family="Liberation Serif, serif" font-size="13.8" fill="#f00" stroke="#f00" stroke-width="0.22" text-anchor="start" textLength="7.4" lengthAdjust="spacingAndGlyphs"  >&lt;</text>
<text transform="translate(281.2,231.0) rotate(0.05)" font-family="Liberation Serif, serif" font-size="13.8" fill="#f00" stroke="#f00" stroke-width="0.22" text-anchor="start" textLength="6.2" lengthAdjust="spacingAndGlyphs"  >2</text>
<line x1="289.3" y1="233.7" x2="297.3" y2="219.9" stroke="#f00" stroke-width="1"/>
<text transform="translate(298.4,231.0) rotate(0.05)" font-family="Liberation Serif, serif" font-size="13.8" fill="#f00" stroke="#f00" stroke-width="0.22" text-anchor="start" textLength="6.7" lengthAdjust="spacingAndGlyphs"  >3</text>
<text transform="translate(312.8,231.0) rotate(0.05)" font-family="Liberation Serif, serif" font-size="13.8" fill="#f00" stroke="#f00" stroke-width="0.22" text-anchor="start" textLength="9.4" lengthAdjust="spacingAndGlyphs"  >R</text>
<text transform="translate(322.4,234.1) rotate(0.05)" font-family="Liberation Serif, serif" font-size="11" fill="#f00" stroke="#f00" stroke-width="0.4" text-anchor="start" textLength="14.0" lengthAdjust="spacingAndGlyphs"  >out</text>
<text transform="translate(289.9,246.2) rotate(0.05)" font-family="Liberation Serif, serif" font-size="13.8" fill="#111" stroke="#111" stroke-width="0.05" text-anchor="start" textLength="6.8" lengthAdjust="spacingAndGlyphs" font-style="italic" >r</text>
<text transform="translate(304.1,246.2) rotate(0.05)" font-family="Liberation Serif, serif" font-size="13.8" fill="#111" stroke="#111" stroke-width="0.3" text-anchor="start" textLength="7.2" lengthAdjust="spacingAndGlyphs"  >&lt;</text>
<text transform="translate(312.8,246.2) rotate(0.05)" font-family="Liberation Serif, serif" font-size="13.8" fill="#111" stroke="#111" stroke-width="0.3" text-anchor="start" textLength="9.4" lengthAdjust="spacingAndGlyphs"  >R</text>
<text transform="translate(322.4,249.3) rotate(0.05)" font-family="Liberation Serif, serif" font-size="11" fill="#111" stroke="#111" stroke-width="0.4" text-anchor="start" textLength="14.0" lengthAdjust="spacingAndGlyphs"  >out</text>
<text transform="translate(305.5,413.3) rotate(0.05)" font-family="Liberation Serif, serif" font-size="13.8" fill="#111" stroke="#111" stroke-width="0.3" text-anchor="start" textLength="19.4" lengthAdjust="spacingAndGlyphs"  >log</text>
<text transform="translate(326.0,416.9) rotate(0.05)" font-family="Liberation Serif, serif" font-size="10.6" fill="#111" text-anchor="start" textLength="10.9" lengthAdjust="spacingAndGlyphs"  font-weight="bold">10</text>
<text transform="translate(343.0,413.3) rotate(0.05)" font-family="Liberation Serif, serif" font-size="13.8" fill="#111" stroke="#111" stroke-width="0.3" text-anchor="start" textLength="10.5" lengthAdjust="spacingAndGlyphs" font-style="italic" >N</text>
<text transform="translate(353.0,416.9) rotate(0.05)" font-family="Liberation Serif, serif" font-size="10.2" fill="#111" text-anchor="start" textLength="12.2" lengthAdjust="spacingAndGlyphs"  font-weight="bold">H2</text>
<text transform="translate(372.0,413.3) rotate(0.05)" font-family="Liberation Serif, serif" font-size="13.8" fill="#111" stroke="#111" stroke-width="0.3" text-anchor="start" textLength="26.0" lengthAdjust="spacingAndGlyphs"  >(cm</text>
<text transform="translate(398.3,406.6) rotate(0.05)" font-family="Liberation Serif, serif" font-size="9.5" fill="#111" text-anchor="start" textLength="13.3" lengthAdjust="spacingAndGlyphs"  font-weight="bold">−2</text>
<text transform="translate(412.0,413.3) rotate(0.05)" font-family="Liberation Serif, serif" font-size="13.8" fill="#111" stroke="#111" stroke-width="0.3" text-anchor="start" textLength="4.0" lengthAdjust="spacingAndGlyphs"  >)</text>
<g transform="translate(11,271.4) rotate(-89.95)">
<text transform="translate(0,0) rotate(0.05)" font-family="Liberation Serif, serif" font-size="13.8" fill="#111" stroke="#111" stroke-width="0.3" text-anchor="start" textLength="102.1" lengthAdjust="spacingAndGlyphs"  >Mass−averaged</text>
<text transform="translate(108.6,0) rotate(0.05)" font-family="Liberation Serif, serif" font-size="13.8" fill="#111" stroke="#111" stroke-width="0.1" text-anchor="start" textLength="9.3" lengthAdjust="spacingAndGlyphs" font-style="italic" >T</text>
<text transform="translate(118.3,3.0) rotate(0.05)" font-family="Liberation Serif, serif" font-size="10" fill="#111" stroke="#111" stroke-width="0.4" text-anchor="start" textLength="19.4" lengthAdjust="spacingAndGlyphs"  >dust</text>
<text transform="translate(146.3,0) rotate(0.05)" font-family="Liberation Serif, serif" font-size="13.8" fill="#111" stroke="#111" stroke-width="0.3" text-anchor="start" textLength="18.7" lengthAdjust="spacingAndGlyphs"  >(K)</text>
</g>
</svg>
</body></html>
